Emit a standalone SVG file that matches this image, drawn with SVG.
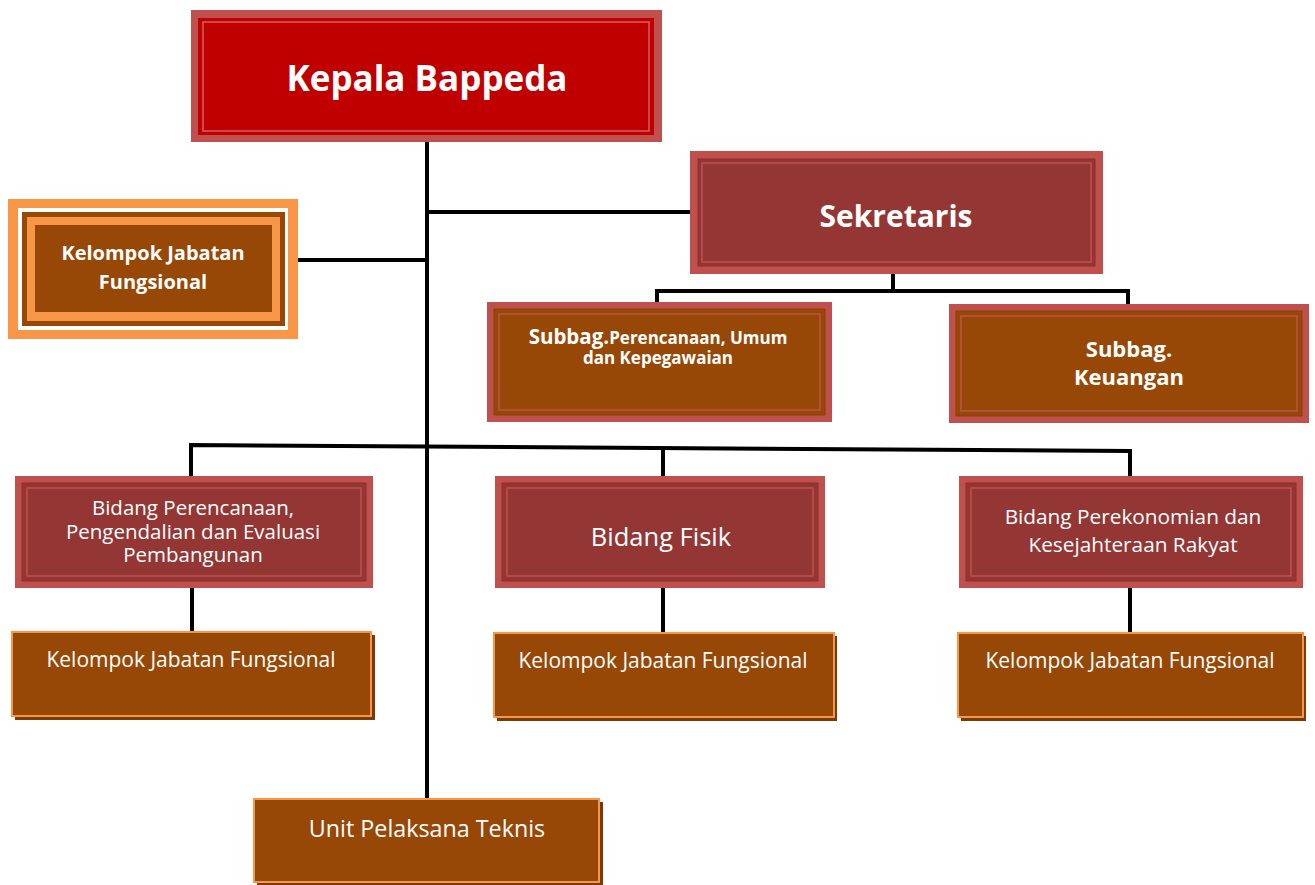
<svg xmlns="http://www.w3.org/2000/svg" width="1315" height="885" viewBox="0 0 1315 885">
<style>
.t{font-family:"Open Sans","Liberation Sans",sans-serif;fill:#fff;text-anchor:middle}
.b{font-weight:bold}
.ob{fill:#C0504D}
.rd{fill:#943634}
.br{fill:#974806}
.thin{fill:none;stroke:#C0504D;stroke-width:1.5}
.kj{fill:#974806;stroke:#F79646;stroke-width:2}
.sh{fill:#7a3a05}
.c{stroke:#000;stroke-width:4;fill:none}
</style>
<rect width="1315" height="885" fill="#fff"/>
<g id="connectors">
<line class="c" x1="427" y1="140" x2="427" y2="800"/>
<line class="c" x1="427" y1="212" x2="698" y2="212"/>
<line class="c" x1="297" y1="260" x2="427" y2="260"/>
<polyline class="c" points="893,272 893,291"/>
<polyline class="c" points="657,304 657,291 1128,291 1128,304"/>
<polyline class="c" points="191,477 191,445 1130,451 1130,480"/>
<line class="c" x1="663" y1="448" x2="663" y2="478"/>
<line class="c" x1="192" y1="586" x2="192" y2="632"/>
<line class="c" x1="663" y1="586" x2="663" y2="633"/>
<line class="c" x1="1130" y1="586" x2="1130" y2="633"/>
</g>
<g id="kepala">
<rect class="ob" x="191" y="10" width="471" height="132"/>
<rect x="198" y="18" width="456" height="117" fill="#C00000"/>
<rect x="203" y="22" width="446" height="109" fill="none" stroke="#D46060" stroke-width="1.5"/>
<text class="t b" x="427" y="91" font-size="35">Kepala Bappeda</text>
</g>
<g id="sekretaris">
<rect class="ob" x="690" y="151" width="413" height="123"/>
<rect class="rd" x="698" y="159" width="397" height="107" stroke="#8a2f2d" stroke-width="1"/>
<rect class="thin" x="702" y="163" width="389" height="99"/>
<text class="t b" x="896" y="227" font-size="30">Sekretaris</text>
</g>
<g id="kelompok-top">
<rect x="8" y="199" width="290" height="140" fill="#F79646"/>
<rect x="18" y="208" width="270" height="122" fill="#fff"/>
<rect x="22" y="212" width="263" height="114" fill="#974806"/>
<rect x="27" y="217" width="253" height="104" fill="#F79646"/>
<rect x="35" y="225" width="237" height="87" fill="#974806"/>
<text class="t b" font-size="20"><tspan x="153" y="260">Kelompok Jabatan</tspan><tspan x="153" y="289">Fungsional</tspan></text>
</g>
<g id="subbag-perencanaan">
<rect class="ob" x="487" y="302" width="345" height="120"/>
<rect class="br" x="494" y="309" width="331" height="106" stroke="#8a4004" stroke-width="1"/>
<rect class="thin" x="499" y="314" width="321" height="96"/>
<text class="t b" font-size="17"><tspan x="658" y="344"><tspan font-size="20.5">Subbag.</tspan>Perencanaan, Umum</tspan><tspan x="658" y="364">dan Kepegawaian</tspan></text>
</g>
<g id="subbag-keuangan">
<rect class="ob" x="949" y="304" width="360" height="119"/>
<rect class="br" x="956" y="311" width="346" height="105" stroke="#8a4004" stroke-width="1"/>
<rect class="thin" x="961" y="316" width="336" height="95"/>
<text class="t b" font-size="22"><tspan x="1129" y="357">Subbag.</tspan><tspan x="1129" y="385">Keuangan</tspan></text>
</g>
<g id="bidang-perencanaan">
<rect class="ob" x="15" y="476" width="358" height="112"/>
<rect class="rd" x="22" y="483" width="344" height="98" stroke="#8a2f2d" stroke-width="1"/>
<rect class="thin" x="27" y="488" width="334" height="88"/>
<text class="t" font-size="20.5"><tspan x="193" y="515">Bidang Perencanaan,</tspan><tspan x="193" y="539">Pengendalian dan Evaluasi</tspan><tspan x="193" y="562">Pembangunan</tspan></text>
</g>
<g id="bidang-fisik">
<rect class="ob" x="495" y="476" width="330" height="112"/>
<rect class="rd" x="502" y="483" width="316" height="98" stroke="#8a2f2d" stroke-width="1"/>
<rect class="thin" x="507" y="488" width="306" height="88"/>
<text class="t" x="661" y="546" font-size="25.5">Bidang Fisik</text>
</g>
<g id="bidang-perekonomian">
<rect class="ob" x="959" y="476" width="344" height="112"/>
<rect class="rd" x="966" y="483" width="330" height="98" stroke="#8a2f2d" stroke-width="1"/>
<rect class="thin" x="971" y="488" width="320" height="88"/>
<text class="t" font-size="20.8"><tspan x="1133" y="524">Bidang Perekonomian dan</tspan><tspan x="1133" y="552">Kesejahteraan Rakyat</tspan></text>
</g>
<g id="kelompok-1">
<rect class="sh" x="15" y="635" width="360" height="85"/>
<rect class="kj" x="12" y="632" width="359" height="84"/>
<text class="t" x="191" y="667" font-size="21">Kelompok Jabatan Fungsional</text>
</g>
<g id="kelompok-2">
<rect class="sh" x="497" y="636" width="340" height="85"/>
<rect class="kj" x="494" y="633" width="340" height="84"/>
<text class="t" x="663" y="668" font-size="21">Kelompok Jabatan Fungsional</text>
</g>
<g id="kelompok-3">
<rect class="sh" x="961" y="636" width="345" height="85"/>
<rect class="kj" x="958" y="633" width="345" height="84"/>
<text class="t" x="1130" y="668" font-size="21">Kelompok Jabatan Fungsional</text>
</g>
<g id="unit">
<rect class="sh" x="257" y="802" width="346" height="83"/>
<rect class="kj" x="254" y="799" width="345" height="83"/>
<text class="t" x="427" y="837" font-size="23.3">Unit Pelaksana Teknis</text>
</g>
</svg>
